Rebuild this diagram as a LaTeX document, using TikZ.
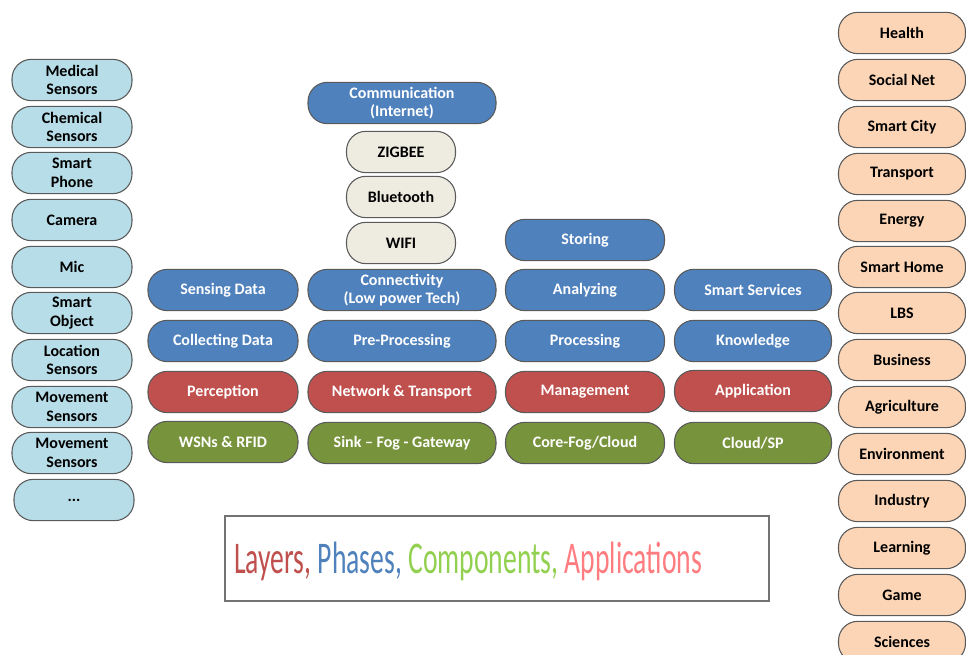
\documentclass[tikz,border=0pt]{standalone}
\usepackage{fontspec}
\setmainfont{Carlito}
\newfontfamily\legendfont[FakeStretch=0.61]{Carlito}
\definecolor{cblue}{HTML}{4F81BD}
\definecolor{cred}{HTML}{C0504D}
\definecolor{cgreen}{HTML}{77933C}
\definecolor{clight}{HTML}{B7DDE8}
\definecolor{cpeach}{HTML}{FBD5B5}
\definecolor{cbeige}{HTML}{EEECE1}
\definecolor{cedge}{HTML}{5A5A5A}
\definecolor{lgreen}{HTML}{92D050}
\definecolor{lpink}{HTML}{FF7C80}
\tikzset{
  pill/.style={rectangle, rounded corners=14.5pt, minimum height=31pt, draw=cedge, line width=0.8pt,
    align=center, inner sep=1pt, font=\fontsize{12}{14}\selectfont\bfseries},
  wd/.style={minimum width=#1*0.75pt},
  bluep/.style={pill, fill=cblue, text=white},
  redp/.style={pill, fill=cred, text=white},
  greenp/.style={pill, fill=cgreen, text=white},
  lightp/.style={pill, fill=clight, text=black, wd=120},
  peachp/.style={pill, fill=cpeach, text=black, wd=127},
  beigep/.style={pill, fill=cbeige, text=black, wd=109},
}
\begin{document}
\begin{tikzpicture}[x=0.75pt,y=-0.75pt]
\useasboundingbox (0,0) rectangle (966,655);
\clip (0,0) rectangle (966,655);
\fill[white] (0,0) rectangle (966,655);
% left column
\node[lightp] (l1) at (72,80) {Medical\\Sensors};
\node[lightp] (l2) at (72,127) {Chemical\\Sensors};
\node[lightp] (l3) at (72,173) {Smart\\Phone};
\node[lightp] (l4) at (72,220) {Camera};
\node[lightp] (l5) at (72,267) {Mic};
\node[lightp] (l6) at (72,313) {Smart\\Object};
\node[lightp] (l7) at (72,360) {Location\\Sensors};
\node[lightp] (l8) at (72,407) {Movement\\Sensors};
\node[lightp] (l9) at (72,453) {Movement\\Sensors};
\node[lightp] (l10) at (74,500) {...};
% right column
\node[peachp] (r1) at (902,33) {Health};
\node[peachp] (r2) at (902,80) {Social Net};
\node[peachp] (r3) at (902,127) {Smart City};
\node[peachp] (r4) at (902,174) {Transport};
\node[peachp] (r5) at (902,221) {Energy};
\node[peachp] (r6) at (902,267) {Smart Home};
\node[peachp] (r7) at (902,313) {LBS};
\node[peachp] (r8) at (902,360) {Business};
\node[peachp] (r9) at (902,407) {Agriculture};
\node[peachp] (r10) at (902,454) {Environment};
\node[peachp] (r11) at (902,501) {Industry};
\node[peachp] (r12) at (902,548) {Learning};
\node[peachp] (r13) at (902,595) {Game};
\node[peachp] (r14) at (902,642) {Sciences};
% column 1
\node[bluep, wd=150] (a1) at (223,290) {Sensing Data};
\node[bluep, wd=150] (a2) at (223,341) {Collecting Data};
\node[redp, wd=150] (a3) at (223,392) {Perception};
\node[greenp, wd=150] (a4) at (223,442) {WSNs \& RFID};
% column 2
\node[bluep, wd=188] (b0) at (402,103) {Communication\\(Internet)};
\node[beigep] (z1) at (401,152) {ZIGBEE};
\node[beigep] (z2) at (401,197) {Bluetooth};
\node[beigep] (z3) at (401,243) {WIFI};
\node[bluep, wd=188] (b1) at (402,290) {Connectivity\\(Low power Tech)};
\node[bluep, wd=188] (b2) at (402,341) {Pre-Processing};
\node[redp, wd=188] (b3) at (402,392) {Network \& Transport};
\node[greenp, wd=188] (b4) at (402,443) {Sink -- Fog - Gateway};
% column 3
\node[bluep, wd=159] (c0) at (585,240) {Storing};
\node[bluep, wd=159] (c1) at (585,290) {Analyzing};
\node[bluep, wd=159] (c2) at (585,341) {Processing};
\node[redp, wd=159] (c3) at (585,392) {Management};
\node[greenp, wd=159] (c4) at (585,443) {Core-Fog/Cloud};
% column 4
\node[bluep, wd=157] (d1) at (753,290) {Smart Services};
\node[bluep, wd=157] (d2) at (753,341) {Knowledge};
\node[redp, wd=157] (d3) at (753,391) {Application};
\node[greenp, wd=157] (d4) at (753,443) {Cloud/SP};
% legend
\node[draw=gray!90!black, line width=0.8pt, minimum width=544*0.75pt, minimum height=85*0.75pt, inner sep=0pt] (leg) at (497,558.5) {};
\node[anchor=west, inner sep=0pt, font=\legendfont\fontsize{34}{36}\selectfont] (legtxt) at (234,561)
  {\textcolor{cred}{Layers,} \textcolor{cblue}{Phases,} \textcolor{lgreen}{Components,} \textcolor{lpink}{Applications}};
\end{tikzpicture}
\end{document}
